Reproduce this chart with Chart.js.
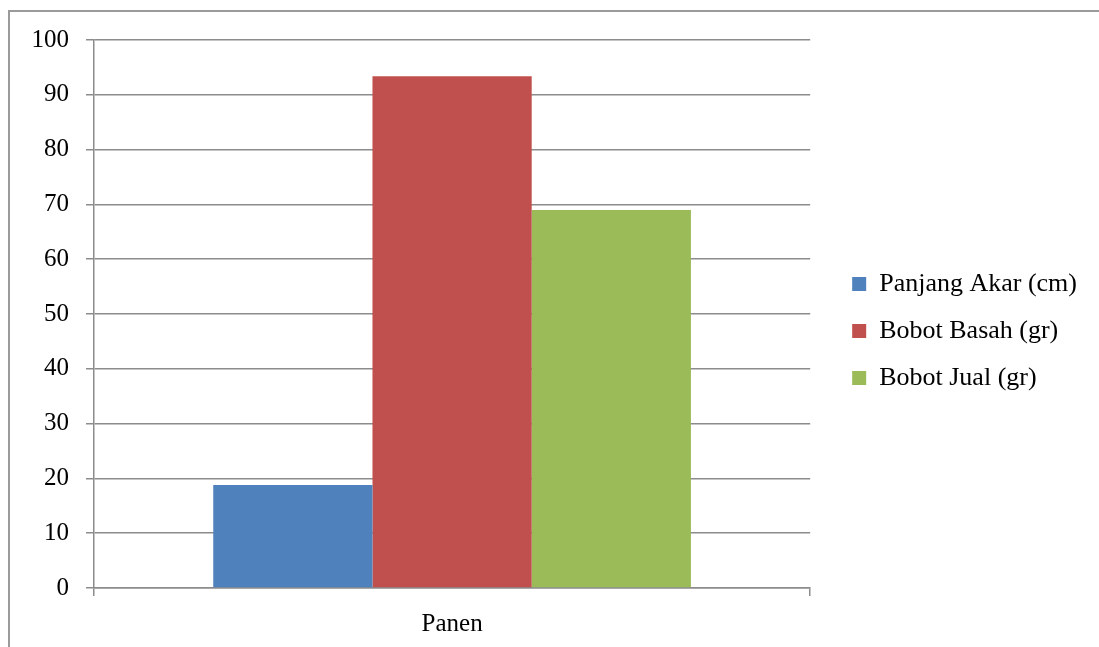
<!DOCTYPE html>
<html>
<head>
<meta charset="utf-8">
<script src="https://cdn.jsdelivr.net/npm/chart.js@4/dist/chart.umd.min.js"></script>
<style>
    html, body { margin: 0; padding: 0; background: #fff; }
    #wrap { position: relative; width: 1099px; height: 647px; overflow: hidden; }
    #marco {
        position: absolute; left: 8px; top: 10px; width: 1200px; height: 800px;
        border-left: 2px solid #9a9a9a; border-top: 2px solid #9a9a9a;
        pointer-events: none;
    }
</style>
</head>
<body>
<div id="wrap">
    <canvas id="grafica" width="1099" height="647"></canvas>
    <div id="marco"></div>
</div>
<script>
// --- DATOS ---
const categorias = ['Panen'];
const panjangAkar = [18.8];
const bobotBasah = [93.4];
const bobotJual = [69.0];
const nombresSeries = ['Panjang Akar (cm)', 'Bobot Basah (gr)', 'Bobot Jual (gr)'];

const fuente = { family: "'Liberation Serif', 'DejaVu Serif', serif", size: 25 };
const fuenteLeyenda = { family: "'Liberation Serif', 'DejaVu Serif', serif", size: 26 };
const gris = '#8c8c8c';

const ctx = document.getElementById('grafica').getContext('2d');

new Chart(ctx, {
    type: 'bar',
    data: {
        labels: categorias,
        datasets: [
            { label: nombresSeries[0], data: panjangAkar, backgroundColor: '#4F81BD' },
            { label: nombresSeries[1], data: bobotBasah, backgroundColor: '#C0504D' },
            { label: nombresSeries[2], data: bobotJual, backgroundColor: '#9BBB59' }
        ]
    },
    options: {
        responsive: false,
        animation: false,
        devicePixelRatio: 1,
        categoryPercentage: 0.667,
        barPercentage: 1,
        layout: { padding: { top: 40, bottom: 0, left: 0, right: 12 } },
        plugins: {
            tooltip: { enabled: false },
            legend: {
                position: 'right',
                align: 'start',
                maxWidth: 300,
                // titulo vacio solo para bajar la leyenda
                title: { display: true, text: ' ', font: { size: 10 }, padding: { top: 198, bottom: 0 } },
                labels: {
                    color: '#000',
                    font: fuenteLeyenda,
                    boxWidth: 14,
                    boxHeight: 14,
                    padding: 21
                }
            }
        },
        scales: {
            y: {
                min: 0,
                max: 100,
                ticks: { stepSize: 10, color: '#000', font: fuente, padding: 17 },
                grid: { color: gris, lineWidth: 1.5, tickLength: 8 },
                border: { color: gris, width: 1.5 },
                afterFit: (escala) => { escala.width = 94; }
            },
            // eje vacio a la derecha: separa la leyenda del area
            yDer: {
                position: 'right',
                grid: { display: false },
                ticks: { display: false },
                border: { display: false },
                afterFit: (escala) => { escala.width = 21; }
            },
            x: {
                ticks: { color: '#000', font: fuente, padding: 13 },
                grid: { drawOnChartArea: false, color: gris, lineWidth: 1.5, tickLength: 8 },
                border: { color: gris, width: 1.5 },
                afterFit: (escala) => { escala.height = 59; }
            }
        }
    }
});
</script>
</body>
</html>
